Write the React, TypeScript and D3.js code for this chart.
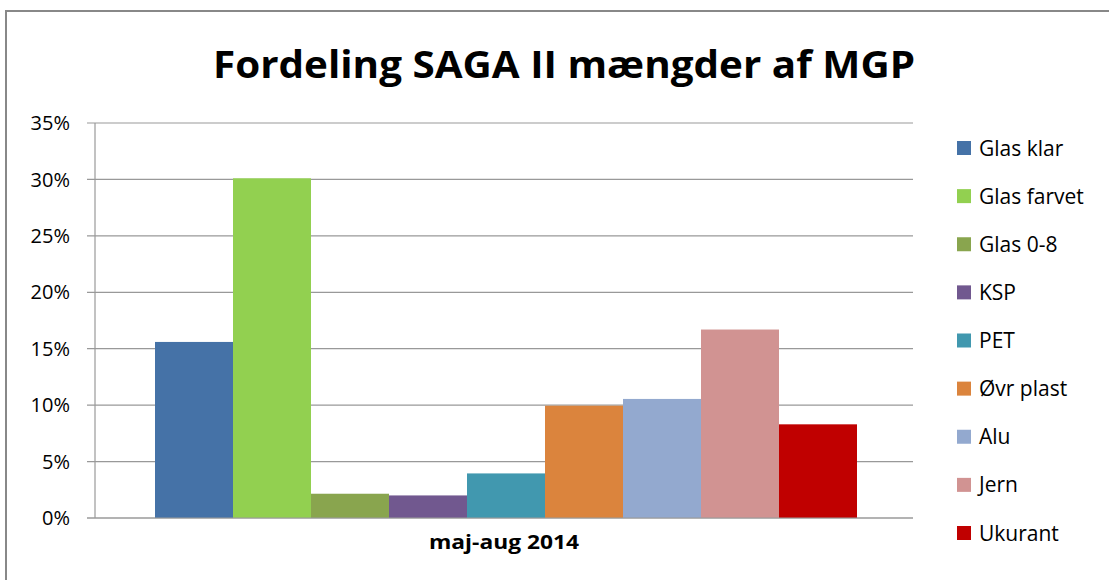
import React from 'react';
import * as d3 from 'd3';

const width = 1109;
const height = 580;

const categories = ['Glas klar', 'Glas farvet', 'Glas 0-8', 'KSP', 'PET', 'Øvr plast', 'Alu', 'Jern', 'Ukurant'];
const values = [15.6, 30.1, 2.15, 2.0, 3.95, 9.95, 10.55, 16.7, 8.3];
const colors = ['#4572a7', '#92d050', '#89a54e', '#71588f', '#4198af', '#db843d', '#93a9cf', '#d19392', '#c00000'];
const yTicks = [0, 5, 10, 15, 20, 25, 30, 35];
const groupLabel = 'maj-aug 2014';
const title = 'Fordeling SAGA II mængder af MGP';

const plotLeft = 95;
const plotRight = 913;
const plotTop = 123;
const plotBottom = 518;
const font = "'Open Sans', 'DejaVu Sans', sans-serif";

const y = d3.scaleLinear().domain([0, 35]).range([plotBottom, plotTop]);
const x = d3.scaleBand<string>().domain(categories).range([155, 857]).padding(0);

const legendY = d3.scalePoint<string>().domain(categories).range([148, 533]);

export default function App() {
  return (
    <svg width={width} height={height} style={{ position: 'absolute', left: 0, top: 0, background: '#fff' }}>
      <rect x={6} y={11} width={width + 10} height={height + 10} fill="#fff" stroke="#888" strokeWidth={2} />
      <text x={564} y={78} textAnchor="middle" fontFamily={font} fontWeight="bold" fontSize={38} textLength={702} lengthAdjust="spacingAndGlyphs">
        {title}
      </text>
      {yTicks.map(t => (
        <g key={t}>
          <line x1={87} x2={plotRight} y1={y(t)} y2={y(t)} stroke="#999" strokeWidth={1.2} />
          <text x={70} y={y(t)} dy="0.36em" textAnchor="end" fontFamily={font} fontSize={20} fill="#000">
            {t}%
          </text>
        </g>
      ))}
      <line x1={plotLeft} x2={plotLeft} y1={plotTop} y2={plotBottom} stroke="#999" strokeWidth={1.2} />
      {categories.map((c, i) => (
        <rect key={c} x={x(c)} y={y(values[i])} width={x.bandwidth()} height={plotBottom - y(values[i])} fill={colors[i]} />
      ))}
      <line x1={87} x2={plotRight} y1={plotBottom} y2={plotBottom} stroke="#999" strokeWidth={1.2} />
      <text x={504} y={549} textAnchor="middle" fontFamily={font} fontWeight="bold" fontSize={20} textLength={150} lengthAdjust="spacingAndGlyphs">
        {groupLabel}
      </text>
      {categories.map((c, i) => (
        <g key={c} transform={`translate(957, ${legendY(c)})`}>
          <rect x={0} y={-7} width={14} height={14} fill={colors[i]} />
          <text x={22} y={0} dy="0.36em" fontFamily={font} fontSize={21} fill="#000">
            {c}
          </text>
        </g>
      ))}
    </svg>
  );
}
